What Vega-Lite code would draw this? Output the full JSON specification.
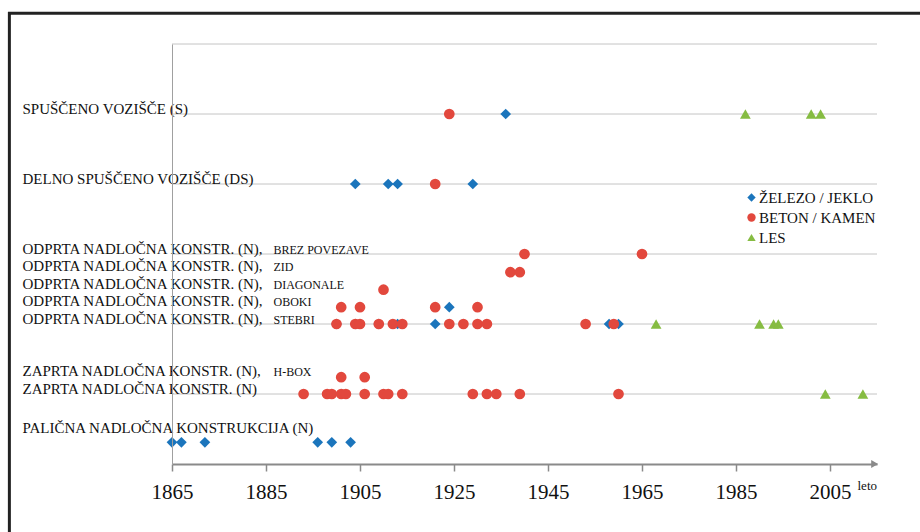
{
  "$schema": "https://vega.github.io/schema/vega-lite/v6.json",
  "width": 705,
  "height": 420,
  "autosize": {"type": "none"},
  "padding": {"left": 172, "top": 44, "right": 43, "bottom": 68},
  "background": "#ffffff",
  "config": {
    "view": {"stroke": null},
    "font": "Liberation Serif",
    "legend": {"labelFont": "Liberation Serif", "labelFontSize": 15, "labelColor": "#111111"},
    "axis": {"zindex": 1, "labelLimit": 500}
  },
  "datasets": {
    "grid": [{"g": 1}, {"g": 2}, {"g": 3}, {"g": 4}, {"g": 5}, {"g": 6}],
    "points": [
      {"year": 1936, "level": 5, "material": "ŽELEZO / JEKLO"},
      {"year": 1904, "level": 4, "material": "ŽELEZO / JEKLO"},
      {"year": 1911, "level": 4, "material": "ŽELEZO / JEKLO"},
      {"year": 1913, "level": 4, "material": "ŽELEZO / JEKLO"},
      {"year": 1929, "level": 4, "material": "ŽELEZO / JEKLO"},
      {"year": 1924, "level": 2.24, "material": "ŽELEZO / JEKLO"},
      {"year": 1900, "level": 2, "material": "ŽELEZO / JEKLO"},
      {"year": 1904, "level": 2, "material": "ŽELEZO / JEKLO"},
      {"year": 1909, "level": 2, "material": "ŽELEZO / JEKLO"},
      {"year": 1913, "level": 2, "material": "ŽELEZO / JEKLO"},
      {"year": 1921, "level": 2, "material": "ŽELEZO / JEKLO"},
      {"year": 1958, "level": 2, "material": "ŽELEZO / JEKLO"},
      {"year": 1960, "level": 2, "material": "ŽELEZO / JEKLO"},
      {"year": 1865, "level": 0.31, "material": "ŽELEZO / JEKLO"},
      {"year": 1867, "level": 0.31, "material": "ŽELEZO / JEKLO"},
      {"year": 1872, "level": 0.31, "material": "ŽELEZO / JEKLO"},
      {"year": 1896, "level": 0.31, "material": "ŽELEZO / JEKLO"},
      {"year": 1899, "level": 0.31, "material": "ŽELEZO / JEKLO"},
      {"year": 1903, "level": 0.31, "material": "ŽELEZO / JEKLO"},
      {"year": 1924, "level": 5, "material": "BETON / KAMEN"},
      {"year": 1921, "level": 4, "material": "BETON / KAMEN"},
      {"year": 1940, "level": 3, "material": "BETON / KAMEN"},
      {"year": 1965, "level": 3, "material": "BETON / KAMEN"},
      {"year": 1937, "level": 2.74, "material": "BETON / KAMEN"},
      {"year": 1939, "level": 2.74, "material": "BETON / KAMEN"},
      {"year": 1910, "level": 2.49, "material": "BETON / KAMEN"},
      {"year": 1901, "level": 2.24, "material": "BETON / KAMEN"},
      {"year": 1905, "level": 2.24, "material": "BETON / KAMEN"},
      {"year": 1921, "level": 2.24, "material": "BETON / KAMEN"},
      {"year": 1930, "level": 2.24, "material": "BETON / KAMEN"},
      {"year": 1900, "level": 2, "material": "BETON / KAMEN"},
      {"year": 1904, "level": 2, "material": "BETON / KAMEN"},
      {"year": 1905, "level": 2, "material": "BETON / KAMEN"},
      {"year": 1909, "level": 2, "material": "BETON / KAMEN"},
      {"year": 1912, "level": 2, "material": "BETON / KAMEN"},
      {"year": 1914, "level": 2, "material": "BETON / KAMEN"},
      {"year": 1924, "level": 2, "material": "BETON / KAMEN"},
      {"year": 1927, "level": 2, "material": "BETON / KAMEN"},
      {"year": 1930, "level": 2, "material": "BETON / KAMEN"},
      {"year": 1932, "level": 2, "material": "BETON / KAMEN"},
      {"year": 1953, "level": 2, "material": "BETON / KAMEN"},
      {"year": 1959, "level": 2, "material": "BETON / KAMEN"},
      {"year": 1901, "level": 1.24, "material": "BETON / KAMEN"},
      {"year": 1906, "level": 1.24, "material": "BETON / KAMEN"},
      {"year": 1893, "level": 1, "material": "BETON / KAMEN"},
      {"year": 1898, "level": 1, "material": "BETON / KAMEN"},
      {"year": 1899, "level": 1, "material": "BETON / KAMEN"},
      {"year": 1901, "level": 1, "material": "BETON / KAMEN"},
      {"year": 1902, "level": 1, "material": "BETON / KAMEN"},
      {"year": 1906, "level": 1, "material": "BETON / KAMEN"},
      {"year": 1910, "level": 1, "material": "BETON / KAMEN"},
      {"year": 1911, "level": 1, "material": "BETON / KAMEN"},
      {"year": 1914, "level": 1, "material": "BETON / KAMEN"},
      {"year": 1929, "level": 1, "material": "BETON / KAMEN"},
      {"year": 1932, "level": 1, "material": "BETON / KAMEN"},
      {"year": 1934, "level": 1, "material": "BETON / KAMEN"},
      {"year": 1939, "level": 1, "material": "BETON / KAMEN"},
      {"year": 1960, "level": 1, "material": "BETON / KAMEN"},
      {"year": 1987, "level": 5, "material": "LES"},
      {"year": 2001, "level": 5, "material": "LES"},
      {"year": 2003, "level": 5, "material": "LES"},
      {"year": 1968, "level": 2, "material": "LES"},
      {"year": 1990, "level": 2, "material": "LES"},
      {"year": 1993, "level": 2, "material": "LES"},
      {"year": 1994, "level": 2, "material": "LES"},
      {"year": 2004, "level": 1, "material": "LES"},
      {"year": 2012, "level": 1, "material": "LES"}
    ]
  },
  "resolve": {"axis": {"y": "independent"}},
  "layer": [
    {
      "data": {"values": [{}]},
      "mark": {"type": "rect", "fill": "#fdfdfd", "fillOpacity": 0, "stroke": "#222222", "strokeWidth": 3, "clip": false},
      "encoding": {
        "x": {"datum": 1830.4, "type": "quantitative", "scale": {"domain": [1865, 2015], "nice": false, "zero": false}},
        "x2": {"datum": 2060},
        "y": {"datum": 6.44, "type": "quantitative", "scale": {"domain": [0, 6], "nice": false, "zero": false}, "axis": null},
        "y2": {"datum": -2}
      }
    },
    {
      "data": {"name": "grid"},
      "mark": {"type": "rule", "color": "#c4c4c4", "strokeWidth": 1},
      "encoding": {
        "y": {
          "field": "g", "type": "quantitative",
          "scale": {"domain": [0, 6], "nice": false, "zero": false},
          "axis": {
            "orient": "left",
            "zindex": 1,
            "values": [1.25, 2, 2.25, 2.5, 2.75, 3],
            "labelExpr": "datum.value == 3 ? 'BREZ POVEZAVE' : datum.value == 2.75 ? 'ZID' : datum.value == 2.5 ? 'DIAGONALE' : datum.value == 2.25 ? 'OBOKI' : datum.value == 2 ? 'STEBRI' : 'H-BOX'",
            "labelAlign": "left",
            "labelPadding": -101,
            "labelLimit": 500,
            "labelFontSize": 12,
            "labelFont": "Liberation Serif",
            "labelColor": "#111111",
            "labelBaseline": "alphabetic",
            "labelOffset": -1,
            "ticks": false,
            "tickSize": 0,
            "domain": false,
            "grid": false,
            "title": null,
            "labelOverlap": false,
            "labelBound": false,
            "labelFlush": false
          }
        }
      }
    },
    {
      "data": {"name": "points"},
      "mark": {"type": "point", "filled": true, "opacity": 1, "size": 115},
      "encoding": {
        "x": {
          "field": "year", "type": "quantitative",
          "scale": {"domain": [1865, 2015], "nice": false, "zero": false},
          "axis": {
            "zindex": 1,
            "values": [1865, 1885, 1905, 1925, 1945, 1965, 1985, 2005],
            "format": "d",
            "labelFontSize": 21,
            "labelFont": "Liberation Serif",
            "labelColor": "#111111",
            "labelBaseline": "alphabetic",
            "labelPadding": 27,
            "tickSize": 7,
            "tickColor": "#8a8a8a",
            "tickWidth": 1.5,
            "domainColor": "#8a8a8a",
            "domainWidth": 2,
            "grid": false,
            "title": "leto",
            "titleFont": "Liberation Serif",
            "titleFontSize": 13,
            "titleFontWeight": "normal",
            "titleColor": "#111111",
            "titleAnchor": "start",
            "titleAlign": "left",
            "titleBaseline": "alphabetic",
            "titleX": 685,
            "titleY": 25,
            "labelFlush": false,
            "labelOverlap": false
          }
        },
        "y": {
          "field": "level", "type": "quantitative",
          "scale": {"domain": [0, 6], "nice": false, "zero": false},
          "axis": {
            "orient": "left",
            "zindex": 1,
            "values": [0.43, 1, 1.25, 2, 2.25, 2.5, 2.75, 3, 4, 5],
            "labelExpr": "datum.value == 5 ? 'SPUŠČENO VOZIŠČE (S)' : datum.value == 4 ? 'DELNO SPUŠČENO VOZIŠČE (DS)' : datum.value >= 2 ? 'ODPRTA NADLOČNA KONSTR. (N),' : datum.value == 1.25 ? 'ZAPRTA NADLOČNA KONSTR. (N),' : datum.value == 1 ? 'ZAPRTA NADLOČNA KONSTR. (N)' : 'PALIČNA NADLOČNA KONSTRUKCIJA (N)'",
            "labelAlign": "left",
            "labelPadding": 150,
            "labelLimit": 500,
            "labelFontSize": 15,
            "labelFont": "Liberation Serif",
            "labelColor": "#111111",
            "labelBaseline": "alphabetic",
            "labelOffset": -1,
            "ticks": false,
            "tickSize": 0,
            "domain": true,
            "domainColor": "#a0a0a0",
            "domainWidth": 1,
            "grid": false,
            "title": null,
            "labelOverlap": false,
            "labelBound": false,
            "labelFlush": false
          }
        },
        "color": {
          "field": "material", "type": "nominal",
          "scale": {"domain": ["ŽELEZO / JEKLO", "BETON / KAMEN", "LES"], "range": ["#1b75bc", "#e2483d", "#86bc42"]},
          "legend": {"title": null, "orient": "none", "legendX": 572, "legendY": 146, "labelFont": "Liberation Serif", "labelFontSize": 15, "labelColor": "#111111", "symbolSize": 70, "labelOffset": 0, "rowPadding": 4, "symbolStrokeWidth": 0}
        },
        "shape": {
          "field": "material", "type": "nominal",
          "scale": {"domain": ["ŽELEZO / JEKLO", "BETON / KAMEN", "LES"], "range": ["diamond", "circle", "triangle-up"]},
          "legend": {"title": null, "orient": "none", "legendX": 572, "legendY": 146, "labelFont": "Liberation Serif", "labelFontSize": 15, "labelColor": "#111111", "symbolSize": 70, "labelOffset": 0, "rowPadding": 4, "symbolStrokeWidth": 0}
        }
      }
    },
    {
      "data": {"values": [{}]},
      "mark": {"type": "point", "shape": "triangle-right", "filled": true, "color": "#8a8a8a", "size": 64, "opacity": 1, "clip": false},
      "encoding": {
        "x": {"datum": 2014.5, "type": "quantitative", "scale": {"domain": [1865, 2015], "nice": false, "zero": false}},
        "y": {"datum": 0, "type": "quantitative", "scale": {"domain": [0, 6], "nice": false, "zero": false}, "axis": null}
      }
    }
  ]
}
